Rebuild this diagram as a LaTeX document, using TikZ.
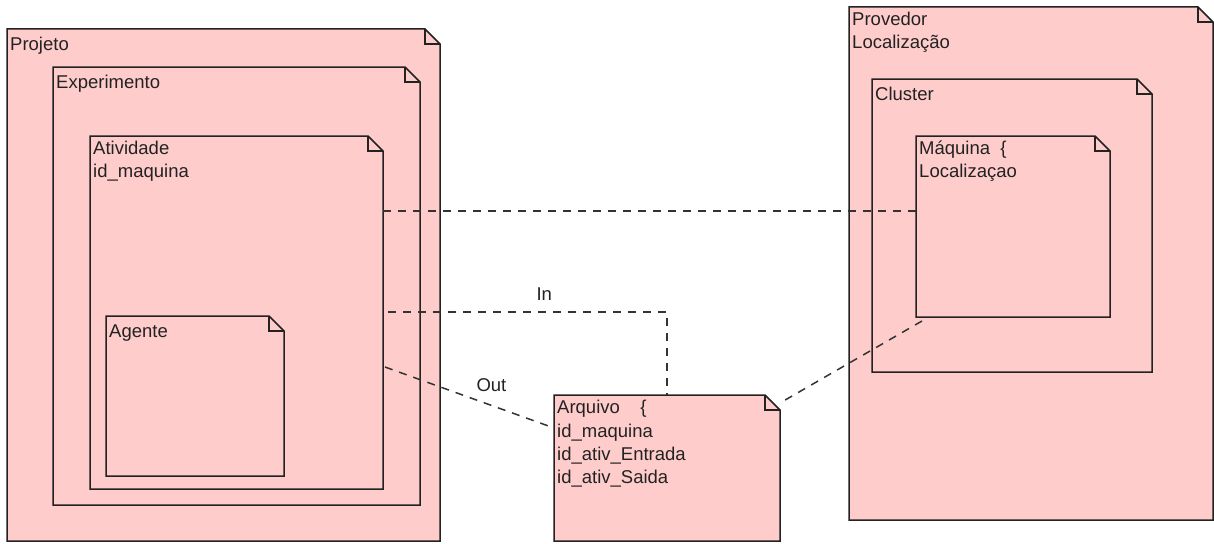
\documentclass[tikz,border=0pt]{standalone}
\usepackage{fontspec}
\setmainfont{Liberation Sans}
\usetikzlibrary{positioning}
\definecolor{notefill}{HTML}{FFCCCC}
\definecolor{noteline}{HTML}{222222}
\definecolor{linkc}{HTML}{333333}
\tikzset{
  note/.style={rectangle,inner sep=0pt,outer sep=0pt,anchor=north west,
    append after command={\pgfextra{
      \draw[fill=notefill,draw=noteline,line width=1.5pt,line join=miter]
        (\tikzlastnode.north west) -- ([xshift=-15pt]\tikzlastnode.north east)
        -- ([yshift=-15pt]\tikzlastnode.north east) -- (\tikzlastnode.south east)
        -- (\tikzlastnode.south west) -- cycle;
      \draw[draw=noteline,line width=1.5pt]
        ([xshift=-15pt]\tikzlastnode.north east) |- ([yshift=-15pt]\tikzlastnode.north east);
    }}},
  txt/.style={align=left,inner sep=0pt,text=noteline,execute at begin node=\strut},
  link/.style={draw=linkc,line width=1.5pt,dash pattern=on 8pt off 7pt},
}
\begin{document}
\begin{tikzpicture}[x=1pt,y=-1pt,font=\fontsize{18.5}{23.3}\selectfont]
\useasboundingbox (0,0) rectangle (1214,543);
% Projeto > Experimento > Atividade > Agente
\node[note,minimum width=433pt,minimum height=512pt] (proj) at (7,29) {};
\node[txt,below right=4.7pt and 3pt of proj.north west] (projT) {Projeto};
\node[note,minimum width=367pt,minimum height=438pt] (exp) at (53,67) {};
\node[txt,below right=4.7pt and 3pt of exp.north west] (expT) {Experimento};
\node[note,minimum width=293pt,minimum height=353pt] (ativ) at (90,136) {};
\node[txt,below right=4.7pt and 3pt of ativ.north west] (ativT) {Atividade\\id\_maquina};
\node[note,minimum width=178pt,minimum height=160pt] (agente) at (106,316) {};
\node[txt,below right=4.7pt and 3pt of agente.north west] (agenteT) {Agente};
% Provedor > Cluster > Maquina
\node[note,minimum width=364pt,minimum height=513pt] (prov) at (849,7) {};
\node[txt,below right=4.7pt and 3pt of prov.north west] (provT) {Provedor\\Localização};
\node[note,minimum width=280pt,minimum height=293pt] (clus) at (872,79) {};
\node[txt,below right=4.7pt and 3pt of clus.north west] (clusT) {Cluster};
\node[note,minimum width=194pt,minimum height=181pt] (maq) at (916,136) {};
\node[txt,below right=4.7pt and 3pt of maq.north west] (maqT) {Máquina\ \ \{\\Localizaçao};
% Arquivo
\node[note,minimum width=226pt,minimum height=146pt] (arq) at (554,395) {};
\node[txt,below right=5.2pt and 3pt of arq.north west] (arqT) {Arquivo\ \ \ \ \{\\id\_maquina\\id\_ativ\_Entrada\\id\_ativ\_Saida};
% ligacoes
\draw[link] ([yshift=-75pt]ativ.north east) -- ([yshift=-75pt]maq.north west);
\draw[link] ([shift={(5pt,-176pt)}]ativ.north east) -| node[pos=0.28,above=7pt,text=noteline] (inL) {In} (arq.north);
\draw[link] ([shift={(2pt,-231pt)}]ativ.north east) -- node[pos=0.63,above=10pt,text=noteline] (outL) {Out} ([yshift=-33pt]arq.north west);
\draw[link] ([shift={(6pt,-4pt)}]maq.south west) -- ([yshift=-8pt]arq.north east);
\end{tikzpicture}
\end{document}
